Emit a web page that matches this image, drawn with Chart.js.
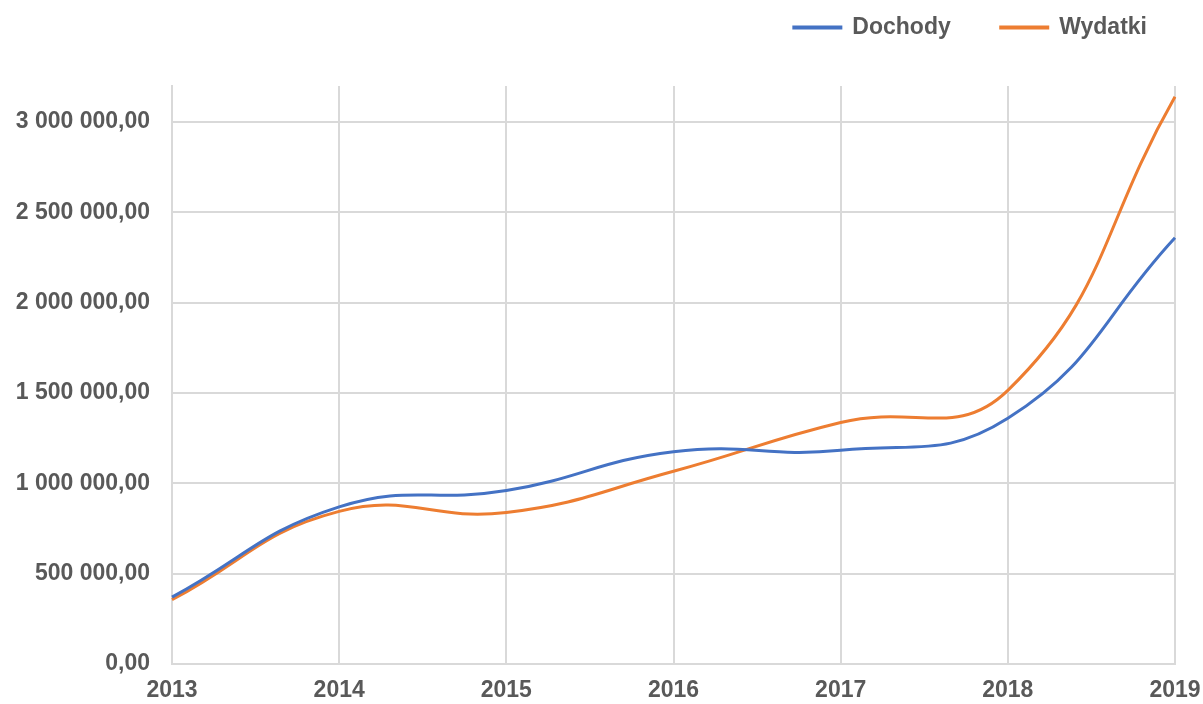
<!DOCTYPE html>
<html>
<head>
<meta charset="utf-8">
<script src="https://cdn.jsdelivr.net/npm/chart.js@4/dist/chart.umd.min.js"></script>
<style>
  html, body { margin: 0; padding: 0; background: #ffffff; }
  #wrap { width: 1203px; height: 704px; position: relative; }
</style>
</head>
<body>
<div id="wrap"><canvas id="lineChart"></canvas></div>
<script>
const years = ['2013', '2014', '2015', '2016', '2017', '2018', '2019'];
const dochody = [370000, 870000, 960000, 1175000, 1183000, 1360000, 2360000];
const wydatki = [356000, 845000, 839000, 1067000, 1337000, 1515000, 3140000];
const yTicks = [0, 500000, 1000000, 1500000, 2000000, 2500000, 3000000];

const textColor = '#595959';
const gridColor = '#d9d9d9';
const fontFamily = '"Liberation Sans", Arial, sans-serif';

function formatPl(v) {
    const s = Math.round(v).toString().replace(/\B(?=(\d{3})+(?!\d))/g, ' ');
    return s + ',00';
}

// legend sits higher than its layout box, so the plot top stays where it is
const legendShift = {
    id: 'legendShift',
    afterLayout(chart) {
        if (chart.legend) {
            chart.legend.top -= 37;
            chart.legend.bottom -= 37;
        }
    }
};

const ctx = document.getElementById('lineChart');
new Chart(ctx, {
    type: 'line',
    data: {
        labels: years,
        datasets: [{
            label: 'Dochody',
            data: dochody,
            borderColor: '#4472c4',
            backgroundColor: '#4472c4',
            borderWidth: 3,
            pointRadius: 0,
            tension: 0.45,
            fill: false
        }, {
            label: 'Wydatki',
            data: wydatki,
            borderColor: '#ed7d31',
            backgroundColor: '#ed7d31',
            borderWidth: 3,
            pointRadius: 0,
            tension: 0.45,
            fill: false
        }]
    },
    options: {
        responsive: true,
        maintainAspectRatio: false,
        animation: false,
        layout: { padding: { top: 3, right: 6, left: 0, bottom: 0 } },
        scales: {
            x: {
                offset: false,
                grid: { color: gridColor, lineWidth: 2, drawTicks: false },
                border: { color: gridColor, width: 2 },
                ticks: {
                    color: textColor,
                    padding: 13,
                    maxRotation: 0,
                    font: { family: fontFamily, size: 23, weight: 'bold' }
                },
                afterFit: scale => {
                    scale.height = 40;
                    scale.paddingLeft = 0;
                    scale.paddingRight = 28;
                }
            },
            y: {
                min: 0,
                max: 3200000,
                grid: { color: gridColor, lineWidth: 2, drawTicks: false },
                border: { color: gridColor, width: 2 },
                ticks: {
                    stepSize: 500000,
                    color: textColor,
                    padding: 22,
                    font: { family: fontFamily, size: 23, weight: 'bold' },
                    callback: v => formatPl(v)
                },
                afterBuildTicks: scale => {
                    scale.ticks = yTicks.map(v => ({ value: v }));
                },
                afterFit: scale => { scale.width = 172; }
            }
        },
        plugins: {
            legend: {
                position: 'top',
                align: 'end',
                labels: {
                    color: textColor,
                    boxWidth: 47,
                    boxHeight: 1,
                    padding: 50,
                    font: { family: fontFamily, size: 23, weight: 'bold' }
                }
            },
            tooltip: { enabled: false }
        }
    },
    plugins: [legendShift]
});
</script>
</body>
</html>
